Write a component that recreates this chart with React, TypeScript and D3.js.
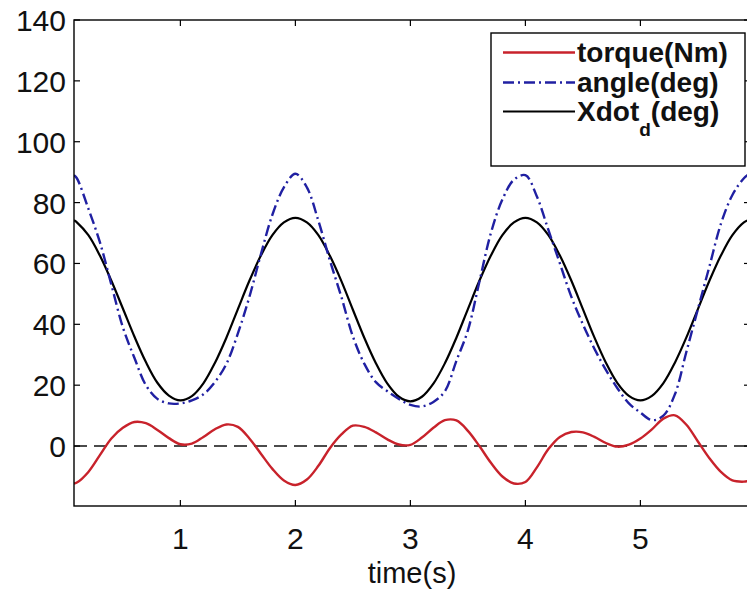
import React from "react";
import * as d3 from "d3";

// Sample times (s)
const times = [
  0.075, 0.1, 0.2, 0.3, 0.4, 0.5, 0.6, 0.7, 0.8, 0.9, 1.0,
  1.1, 1.2, 1.3, 1.4, 1.5, 1.6, 1.7, 1.8, 1.9, 2.0,
  2.1, 2.2, 2.3, 2.4, 2.5, 2.6, 2.7, 2.8, 2.9, 3.0,
  3.1, 3.2, 3.3, 3.4, 3.5, 3.6, 3.7, 3.8, 3.9, 4.0,
  4.1, 4.2, 4.3, 4.4, 4.5, 4.6, 4.7, 4.8, 4.9, 5.0,
  5.1, 5.2, 5.3, 5.4, 5.5, 5.6, 5.7, 5.8, 5.9, 5.95,
];

// torque (Nm)
const torque = [
  -12.3, -12, -8.5, -3, 2.5, 6, 7.9, 7.5, 5.3, 2.6, 0.6,
  0.8, 3, 5.5, 7.1, 6.3, 2.5, -2.5, -7.5, -11.3, -12.8,
  -11, -6.5, -0.7, 3.8, 6.7, 6.3, 4.5, 2.2, 0.5, 0.4,
  2.8, 6, 8.5, 8.4, 5, 0, -5.5, -10, -12.3, -11.8,
  -7, -1, 3, 4.6, 4.5, 3, 1, -0.2, 0.5, 2.5,
  5.5, 9, 10.1, 7, 1.5, -4, -8.5, -11.3, -11.7, -11.4,
];

// angle (deg)
const angle = [
  89, 88, 78, 67, 53, 39, 29, 20, 15.5, 14, 14,
  15, 17, 21, 27, 37, 49, 63, 76, 85, 89.5,
  85, 74, 61, 49, 36, 27, 21, 18, 15.5, 13.5,
  13, 14.5, 18, 28, 38, 54, 70, 81, 87.5, 89,
  82, 71, 60, 49, 40, 32, 25, 19, 14, 11,
  8.5, 10, 17, 31, 45, 59, 73, 82.5, 88, 89.5,
];

// Xdot_d (deg)
const xdotD = [
  74.2, 73.5, 69.3, 62.6, 54.3, 45.2, 36, 27.6, 20.8, 16.6, 15,
  16.4, 20.6, 27.3, 35.6, 45, 54.3, 62.6, 69.3, 73.5, 75,
  73.5, 69.3, 62.5, 54.2, 44.8, 35.5, 27.2, 20.5, 16.2, 14.7,
  16.2, 20.5, 27.2, 35.6, 45, 54.3, 62.6, 69.3, 73.5, 75,
  73.5, 69.3, 62.6, 54.3, 45, 35.7, 27.4, 20.7, 16.5, 15,
  16.5, 20.7, 27.4, 35.7, 45, 54.3, 62.6, 69.3, 73.5, 74.4,
];

const xTicks = [1, 2, 3, 4, 5];
const yTicks = [0, 20, 40, 60, 80, 100, 120, 140];

const legendLabels = ["torque(Nm)", "angle(deg)", "Xdot"];

const W = 747;
const H = 589;
const left = 74;
const right = 750;
const top = 20;
const bottom = 506;

const font = "'Liberation Sans', Arial, Helvetica, sans-serif";

export default function App() {
  const x = d3.scaleLinear().domain([0.075, 5.953]).range([left, right]);
  const y = d3.scaleLinear().domain([-19.7, 140]).range([bottom, top]);

  const mk = (vals: number[]) =>
    d3
      .line<number>()
      .x((_, i) => x(times[i]))
      .y((v) => y(v))
      .curve(d3.curveCatmullRom.alpha(0.5))(vals) as string;

  const red = "#c8222b";
  const blue = "#2020a2";
  const tick = 6;

  const legX = 491;
  const legY = 33;
  const legW = 254;
  const legH = 133;
  const rowY = [52.5, 82.5, 111.5];

  return (
    <svg
      width={W}
      height={H}
      style={{ position: "absolute", left: 0, top: 0, background: "#fff" }}
      fontFamily={font}
    >
      <rect x={0} y={0} width={W} height={H} fill="#fff" />
      <defs>
        <clipPath id="plotArea">
          <rect x={left} y={top} width={right - left} height={bottom - top} />
        </clipPath>
      </defs>

      {/* zero reference */}
      <line
        x1={left}
        x2={right}
        y1={y(0)}
        y2={y(0)}
        stroke="#111"
        strokeWidth={1.5}
        strokeDasharray="13,7"
      />

      <g clipPath="url(#plotArea)" fill="none" strokeLinejoin="round">
        <path d={mk(xdotD)} stroke="#000" strokeWidth={2.2} />
        <path d={mk(angle)} stroke={blue} strokeWidth={2.4} strokeDasharray="11,4,2,4" />
        <path d={mk(torque)} stroke={red} strokeWidth={2.4} />
      </g>

      {/* axes box */}
      <rect
        x={left}
        y={top}
        width={right - left}
        height={bottom - top}
        fill="none"
        stroke="#000"
        strokeWidth={1.4}
      />

      {xTicks.map((t) => (
        <g key={"xt" + t}>
          <line x1={x(t)} x2={x(t)} y1={bottom} y2={bottom - tick} stroke="#000" strokeWidth={1.2} />
          <line x1={x(t)} x2={x(t)} y1={top} y2={top + tick} stroke="#000" strokeWidth={1.2} />
          <text x={x(t)} y={549} fontSize={30} textAnchor="middle" fill="#111">
            {t}
          </text>
        </g>
      ))}

      {yTicks.map((v) => (
        <g key={"yt" + v}>
          <line x1={left} x2={left + tick} y1={y(v)} y2={y(v)} stroke="#000" strokeWidth={1.2} />
          <line x1={right} x2={right - tick} y1={y(v)} y2={y(v)} stroke="#000" strokeWidth={1.2} />
          <text x={66} y={y(v) + 11} fontSize={30} textAnchor="end" fill="#111">
            {v}
          </text>
        </g>
      ))}

      <text x={(left + right) / 2} y={583} fontSize={29} textAnchor="middle" fill="#111">
        time(s)
      </text>

      {/* legend */}
      <rect x={legX} y={legY} width={legW} height={legH} fill="#fff" stroke="#000" strokeWidth={1.4} />
      <line x1={503} x2={575} y1={rowY[0]} y2={rowY[0]} stroke={red} strokeWidth={2.4} />
      <line
        x1={503}
        x2={575}
        y1={rowY[1]}
        y2={rowY[1]}
        stroke={blue}
        strokeWidth={2.4}
        strokeDasharray="11,4,2,4"
      />
      <line x1={503} x2={575} y1={rowY[2]} y2={rowY[2]} stroke="#000" strokeWidth={2.2} />
      <text x={577} y={rowY[0] + 9.5} fontSize={28} fontWeight="bold" fill="#111">
        {legendLabels[0]}
      </text>
      <text x={577} y={rowY[1] + 9.5} fontSize={28} fontWeight="bold" fill="#111">
        {legendLabels[1]}
      </text>
      <text x={577} y={rowY[2] + 9.5} fontSize={28} fontWeight="bold" fill="#111">
        {legendLabels[2]}
        <tspan fontSize={19} dy={15}>d</tspan>
        <tspan dy={-15}>(deg)</tspan>
      </text>
    </svg>
  );
}
